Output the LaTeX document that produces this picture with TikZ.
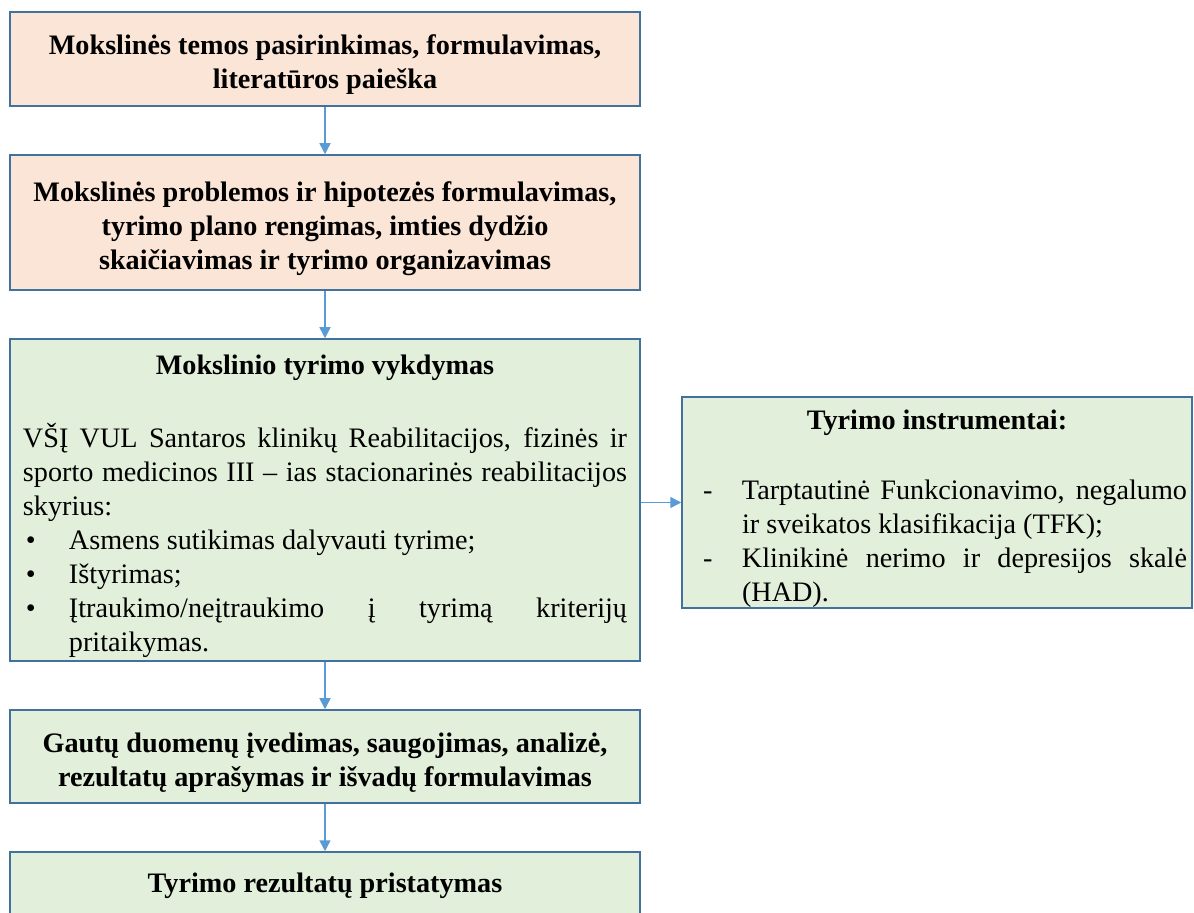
\documentclass[tikz,border=0pt]{standalone}
\usepackage{fontspec}
\setmainfont{Liberation Serif}
\usetikzlibrary{arrows.meta}
\definecolor{peach}{HTML}{FBE5D6}
\definecolor{lgreen}{HTML}{E2EFDA}
\definecolor{bordblue}{HTML}{41719C}
\definecolor{arrblue}{HTML}{5B9BD5}
\hbadness=10000
\hyphenpenalty=10000
\exhyphenpenalty=10000
\newcommand\mybullet[1]{\par\hangindent=23pt\hangafter=1\noindent\makebox[23pt][l]{\hspace{1.5pt}\textbullet}#1\par}
\newcommand\mydash[1]{\par\hangindent=19.5pt\hangafter=1\noindent\makebox[19.5pt][l]{-}#1\par}
\newcommand\topstrut[1]{\rule{0pt}{#1}}
\tikzset{
  box/.style={draw=bordblue, line width=0.75pt, minimum width=315pt, inner sep=0pt,
    align=center, font=\fontsize{14.1}{17}\selectfont\bfseries},
  peachbox/.style={box, fill=peach},
  greenbox/.style={box, fill=lgreen},
  textbox/.style={draw=bordblue, line width=0.75pt, fill=lgreen, inner sep=0pt,
    align=justify, font=\fontsize{14.1}{17}\selectfont},
  conn/.style={draw=arrblue, line width=0.75pt, -{Triangle[length=5.5pt,width=5.5pt]}}
}
\begin{document}
\begin{tikzpicture}[x=0.5pt,y=-0.5pt]
\useasboundingbox (0,0) rectangle (1194,913);
\clip (0,0) rectangle (1194,913);
\node[peachbox, minimum height=47pt] (b1) at (325,59)
  {\topstrut{16pt}Mokslinės temos pasirinkimas, formulavimas,\\literatūros paieška};
\node[peachbox, minimum height=67.5pt] (b2) at (325,222.5)
  {\topstrut{16pt}Mokslinės problemos ir hipotezės formulavimas,\\tyrimo plano rengimas, imties dydžio\\skaičiavimas ir tyrimo organizavimas};
\node[textbox, minimum width=315pt, minimum height=161pt, text width=302pt] (b3) at (325,500)
  {{\centering\bfseries\topstrut{16pt}Mokslinio tyrimo vykdymas\par}\vspace{19.5pt}%
   VŠĮ VUL Santaros klinikų Reabilitacijos, fizinės ir\linebreak
   sporto medicinos III – ias stacionarinės reabilitacijos\linebreak
   skyrius:\par
   \mybullet{Asmens sutikimas dalyvauti tyrime;}
   \mybullet{Ištyrimas;}
   \mybullet{Įtraukimo/neįtraukimo į tyrimą kriterijų\linebreak pritaikymas.}};
\node[textbox, minimum width=255pt, minimum height=104.5pt, text width=250pt] (rb) at (937,502.5)
  {{\centering\bfseries\topstrut{16.5pt}Tyrimo instrumentai:\par}\vspace{18pt}%
   \leftskip=8pt
   \mydash{Tarptautinė Funkcionavimo, negalumo\linebreak ir sveikatos klasifikacija (TFK);}
   \mydash{Klinikinė nerimo ir depresijos skalė\linebreak (HAD).}};
\node[greenbox, minimum height=46.5pt] (b4) at (325,756.5)
  {\topstrut{16pt}Gautų duomenų įvedimas, saugojimas, analizė,\\rezultatų aprašymas ir išvadų formulavimas};
\node[greenbox, minimum height=34pt] (b5) at (325,886)
  {Tyrimo rezultatų pristatymas};
\draw[conn] (b1.south) -- (b2.north);
\draw[conn] (b2.south) -- (b3.north);
\draw[conn] (b3.south) -- (b4.north);
\draw[conn] (b4.south) -- (b5.north);
\draw[conn] (b3.east |- rb.west) -- (rb.west);
\end{tikzpicture}
\end{document}
